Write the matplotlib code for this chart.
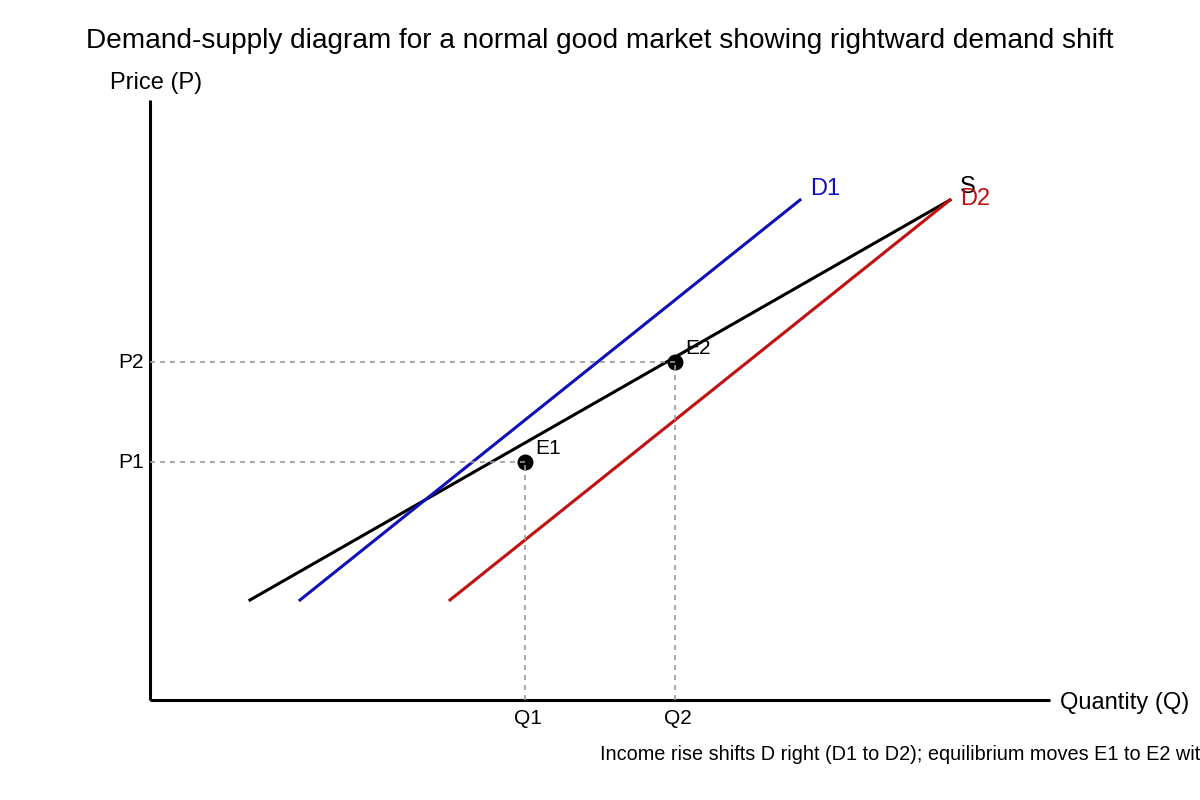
import matplotlib.pyplot as plt

plt.rcParams['font.family'] = ['Liberation Sans', 'DejaVu Sans']

# curve end points (quantity, price)
supply_q = [100, 800]
supply_p = [100, 500]
d1_q = [150, 650]
d1_p = [100, 500]
d2_q = [300, 800]
d2_p = [100, 500]

# equilibria
eq_names = ['E1', 'E2']
eq_q = [375, 525]
eq_p = [238, 338]
q_labels = ['Q1', 'Q2']
p_labels = ['P1', 'P2']

fig = plt.figure(figsize=(12, 8), dpi=100)
ax = fig.add_axes([0.125, 0.125, 0.75, 0.75])
ax.set_xlim(0, 900)
ax.set_ylim(0, 600)
ax.axis('off')

# axes
ax.plot([0, 0], [0, 600], color='black', lw=2.2, clip_on=False, solid_capstyle='butt')
ax.plot([0, 900], [0, 0], color='black', lw=2.2, clip_on=False, solid_capstyle='butt')

ax.plot(supply_q, supply_p, color='black', lw=2.2)
ax.plot(d1_q, d1_p, color='#1010bb', lw=2.2)
ax.plot(d2_q, d2_p, color='#c01010', lw=2.2)

for name, q, p, ql, pl in zip(eq_names, eq_q, eq_p, q_labels, p_labels):
    ax.scatter([q], [p], s=110, color='black', zorder=3)
    ax.plot([0, q], [p, p], color='#999999', lw=1.2, ls=(0, (3, 3)), zorder=4)
    ax.plot([q, q], [0, p], color='#999999', lw=1.2, ls=(0, (3, 3)), zorder=4)
    ax.text(q + 10, p + 13, name, fontsize=15, va='center', ha='left')
    ax.text(-6, p, pl, fontsize=15, va='center', ha='right')
    ax.text(q + 3, -19, ql, fontsize=15, va='center', ha='center', clip_on=False)

ax.text(660, 511, 'D1', fontsize=17, color='#1010bb', va='center', ha='left')
ax.text(810, 513, 'S', fontsize=17, color='black', va='center', ha='left')
ax.text(810, 501, 'D2', fontsize=17, color='#c01010', va='center', ha='left')

ax.text(-40, 617, 'Price (P)', fontsize=17, va='center', ha='left', clip_on=False)
ax.text(910, -3, 'Quantity (Q)', fontsize=17, va='center', ha='left', clip_on=False)
ax.text(450, -54, 'Income rise shifts D right (D1 to D2); equilibrium moves E1 to E2 with higher price and quantity',
        fontsize=14.3, va='center', ha='left', clip_on=False)

fig.text(0.5, 1 - 41 / 800, 'Demand-supply diagram for a normal good market showing rightward demand shift',
         fontsize=20.2, ha='center', va='center')

fig.savefig('out.png', dpi=100)
